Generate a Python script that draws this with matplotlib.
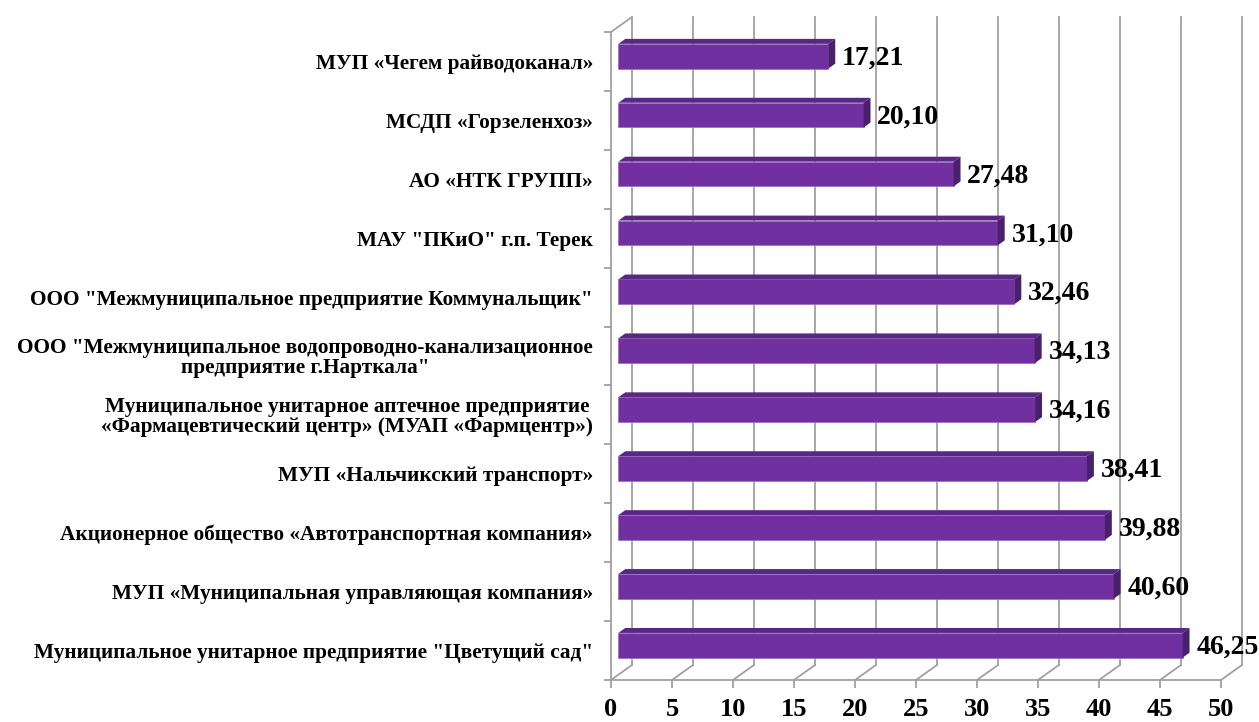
import matplotlib.pyplot as plt
from matplotlib.patches import Polygon

# Data (top to bottom, as in the reference)
categories = [
    'МУП «Чегем райводоканал»',
    'МСДП «Горзеленхоз»',
    'АО «НТК ГРУПП»',
    'МАУ "ПКиО" г.п. Терек',
    'ООО "Межмуниципальное предприятие Коммунальщик"',
    'ООО "Межмуниципальное водопроводно-канализационное\nпредприятие г.Нарткала"',
    'Муниципальное унитарное аптечное предприятие\n«Фармацевтический центр» (МУАП «Фармцентр»)',
    'МУП «Нальчикский транспорт»',
    'Акционерное общество «Автотранспортная компания»',
    'МУП «Муниципальная управляющая компания»',
    'Муниципальное унитарное предприятие "Цветущий сад"',
]
values = [17.21, 20.10, 27.48, 31.10, 32.46, 34.13, 34.16, 38.41, 39.88, 40.60, 46.25]
x_ticks = [0, 5, 10, 15, 20, 25, 30, 35, 40, 45, 50]

plt.rcParams['font.family'] = ['Liberation Serif', 'DejaVu Serif']
plt.rcParams['font.weight'] = 'bold'

fig = plt.figure(figsize=(12.59, 7.22), dpi=100)
ax = fig.add_axes([611 / 1259, 42 / 722, 610 / 1259, 648 / 722])

N = len(categories)
XMAX = 50
# oblique depth of the 3D box, in data units
DX = 21 / 12.2
DY = 15 / 58.9
# bar placement inside the depth
F0 = 0.35
DD = 0.33
H = 0.42
grid_c = '#A0A0A0'
front_c = '#7030A0'
top_c = '#5A2785'
side_c = '#4A1F6C'

ax.set_xlim(0, XMAX)
ax.set_ylim(0, N)

# back wall gridlines and floor lines
for x in x_ticks:
    ax.plot([x + DX, x + DX], [DY, N + DY], color=grid_c, lw=1.3, clip_on=False, zorder=1)
    ax.plot([x, x + DX], [0, DY], color=grid_c, lw=1.3, clip_on=False, zorder=1)
# left wall top edge
ax.plot([0, DX], [N, N + DY], color=grid_c, lw=1.3, clip_on=False, zorder=1)

# bars
for i, v in enumerate(values):
    yc = N - i - 0.5
    L = F0 * DX
    B = yc - H / 2 + F0 * DY
    T = B + H
    ddx = DD * DX
    ddy = DD * DY
    ax.barh(yc + F0 * DY, v, left=L, height=H, color=front_c,
            edgecolor='#9B72C2', linewidth=0.6, zorder=3)
    ax.add_patch(Polygon([(L, T), (L + v, T), (L + v + ddx, T + ddy), (L + ddx, T + ddy)],
                         closed=True, facecolor=top_c, edgecolor='none', zorder=3, clip_on=False))
    ax.add_patch(Polygon([(L + v, B), (L + v + ddx, B + ddy), (L + v + ddx, T + ddy), (L + v, T)],
                         closed=True, facecolor=side_c, edgecolor='none', zorder=3, clip_on=False))
    ax.text(L + v + ddx + 0.55, yc + F0 * DY - 0.03, f'{v:.2f}'.replace('.', ','),
            fontsize=20, fontweight='bold', ha='left', va='center', zorder=4, clip_on=False)

# axes styling
for s in ['top', 'right']:
    ax.spines[s].set_visible(False)
for s in ['left', 'bottom']:
    ax.spines[s].set_color(grid_c)
    ax.spines[s].set_linewidth(1.3)

ax.set_xticks(x_ticks)
ax.set_xticklabels([str(t) for t in x_ticks], fontsize=19, fontweight='bold')
ax.tick_params(axis='x', direction='out', length=6, width=1.3, color=grid_c, pad=7)

ax.set_yticks(range(N + 1))
ax.set_yticklabels([])
ax.tick_params(axis='y', which='major', direction='out', length=5, width=1.3, color=grid_c)
ax.set_yticks([N - i - 0.5 for i in range(N)], minor=True)
ax.set_yticklabels(categories, minor=True, fontsize=15.3, fontweight='bold')
ax.tick_params(axis='y', which='minor', length=0, pad=13)
for lbl in ax.get_yticklabels(minor=True):
    lbl.set_multialignment('center')
    lbl.set_linespacing(1.0)

ax.set_facecolor('none')
plt.savefig('out.png', dpi=100)
